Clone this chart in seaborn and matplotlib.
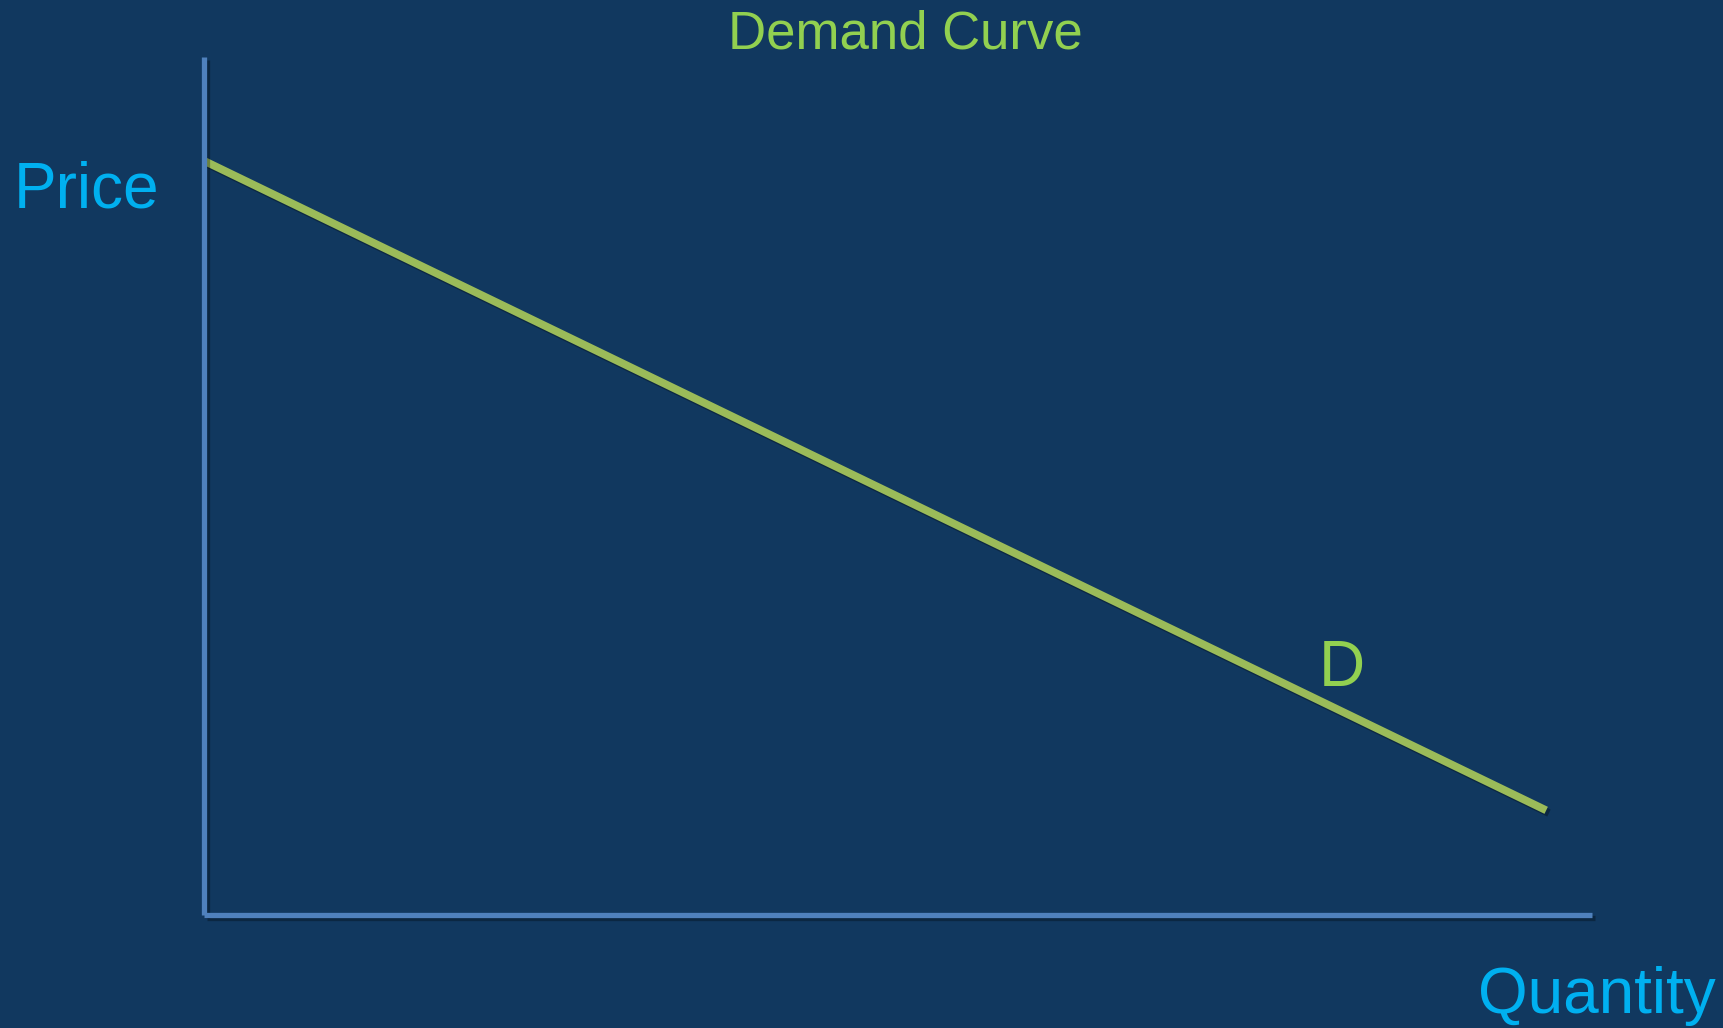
import matplotlib
matplotlib.use("Agg")
import matplotlib.pyplot as plt
import matplotlib.patheffects as pe
import seaborn as sns
import pandas as pd

# Demand schedule: quantity demanded at each price
quantity = [0.0, 96.7]
price = [87.9, 12.2]

title = "Demand Curve"
x_label = "Quantity"
y_label = "Price"
curve_label = "D"

BG = "#11385f"
AXIS = "#4f81bd"
CURVE = "#9bbb59"
TITLE_GREEN = "#92d050"
LABEL_BLUE = "#00b0f0"

sns.set_theme(style="white")
plt.rcParams["font.family"] = ["Liberation Sans", "DejaVu Sans"]

W, H = 1724, 1028
fig = plt.figure(figsize=(W / 100, H / 100), dpi=100, facecolor=BG)

left, right, top, bottom = 204, 1592, 57, 915
ax = fig.add_axes([left / W, (H - bottom) / H, (right - left) / W, (bottom - top) / H])
ax.set_facecolor(BG)

df = pd.DataFrame({"Quantity": quantity, "Price": price})
shadow = [pe.SimpleLineShadow(offset=(2, -2), shadow_color="black", alpha=0.3), pe.Normal()]
sns.lineplot(data=df, x="Quantity", y="Price", ax=ax, color=CURVE, linewidth=5.6,
             solid_capstyle="butt")
for line in ax.lines:
    line.set_path_effects(shadow)

ax.set_xlim(0, 100)
ax.set_ylim(0, 100)
ax.set_xticks([])
ax.set_yticks([])
ax.set_xlabel("")
ax.set_ylabel("")

for side in ("top", "right"):
    ax.spines[side].set_visible(False)
for side in ("left", "bottom"):
    sp = ax.spines[side]
    sp.set_visible(True)
    sp.set_color(AXIS)
    sp.set_linewidth(3.8)
    sp.set_path_effects(shadow)
    sp.set_capstyle("butt")

ax.text(82.0, 26.7, curve_label, color=TITLE_GREEN, fontsize=46, ha="center", va="baseline")

fig.text(905 / W, 1 - 48 / H, title, color=TITLE_GREEN, fontsize=38, ha="center", va="baseline")
fig.text(14 / W, 1 - 207 / H, y_label, color=LABEL_BLUE, fontsize=46, ha="left", va="baseline")
fig.text(1478 / W, 1 - 1013 / H, x_label, color=LABEL_BLUE, fontsize=46, ha="left", va="baseline")

fig.savefig("out.png", dpi=100, facecolor=BG)
